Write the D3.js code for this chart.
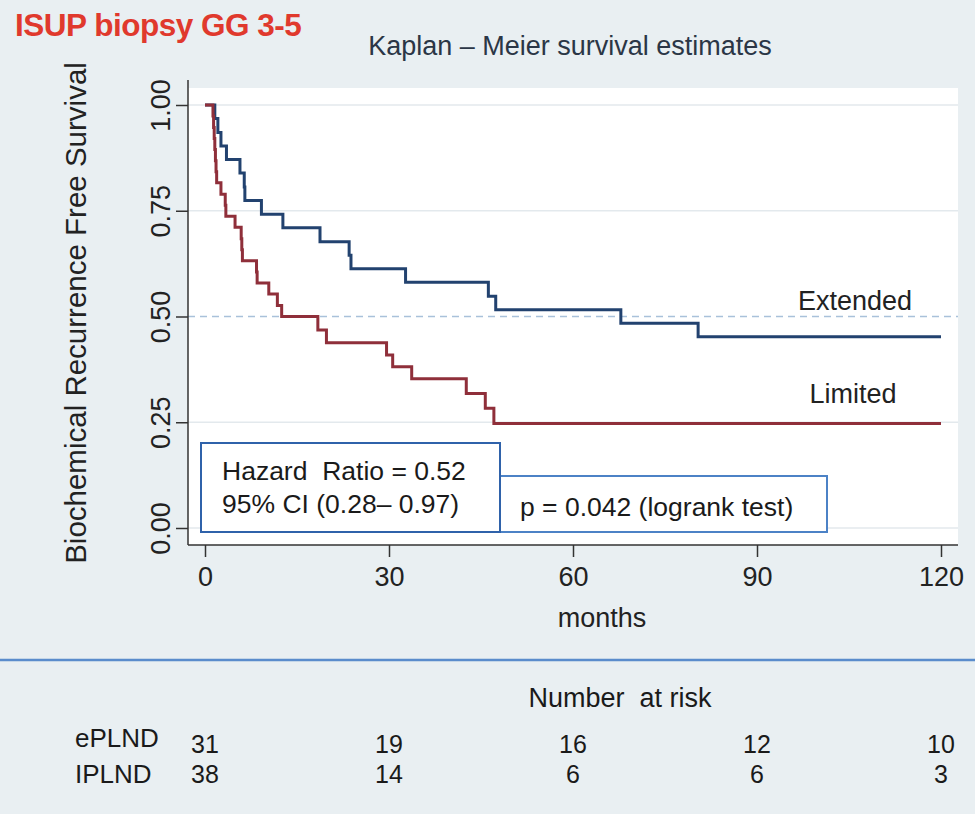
<!DOCTYPE html>
<html>
<head>
<meta charset="utf-8">
<script src="https://cdn.jsdelivr.net/npm/d3@7"></script>
<style>
  html, body { margin: 0; padding: 0; background: #e9eff2; }
  svg { display: block; }
  text { font-family: "Liberation Sans", Arial, sans-serif; }
</style>
</head>
<body>
<svg id="chart" width="975" height="814"></svg>
<script>
// ---- data ----
const timeTicks = [0, 30, 60, 90, 120];
const survTicks = [0, 0.25, 0.5, 0.75, 1];
const extTimes = [0, 1.6, 2.1, 2.6, 3.5, 5.7, 6.4, 6.5, 9.2, 12.7, 18.75, 23.5, 23.8, 32.7, 46.2, 47.4, 67.8, 80.4, 120];
const extSurv  = [1, 0.968, 0.935, 0.903, 0.871, 0.839, 0.806, 0.774, 0.742, 0.710, 0.677, 0.645, 0.613, 0.581, 0.548, 0.516, 0.484, 0.452, 0.452];
const limTimes = [0, 1.3, 1.4, 1.5, 1.6, 1.7, 1.8, 1.9, 2.6, 3.3, 3.4, 4.9, 5.9, 6.0, 6.1, 8.4, 8.5, 10.4, 11.8, 12.5, 18.4, 19.8, 29.6, 30.6, 33.7, 42.6, 45.7, 47.1, 120];
const limSurv  = [1, 0.974, 0.947, 0.921, 0.895, 0.868, 0.842, 0.816, 0.789, 0.763, 0.737, 0.711, 0.684, 0.658, 0.632, 0.605, 0.579, 0.553, 0.526, 0.5, 0.468, 0.438, 0.409, 0.381, 0.353, 0.318, 0.283, 0.247, 0.247];
const groupNames = ["ePLND", "IPLND"];
const riskExt = [31, 19, 16, 12, 10];
const riskLim = [38, 14, 6, 6, 3];
const curveLabels = ["Extended", "Limited"];

// ---- layout ----
const svg = d3.select("#chart");
const frame = { left: 188, right: 958, top: 88, bottom: 545 };
const x = d3.scaleLinear().domain([0, 120]).range([205, 941]);
const y = d3.scaleLinear().domain([0, 1]).range([528, 105]);
const FS = 27;

// page titles
svg.append("text").attr("x", 15).attr("y", 36)
  .attr("fill", "#e0392d").attr("font-weight", "bold").attr("font-size", 31.5)
  .attr("letter-spacing", -0.5)
  .text("ISUP biopsy GG 3-5");
svg.append("text").attr("x", 570).attr("y", 55).attr("text-anchor", "middle")
  .attr("fill", "#2b3646").attr("font-size", FS)
  .text("Kaplan \u2013 Meier survival estimates");

// plot background
svg.append("rect").attr("x", frame.left).attr("y", frame.top)
  .attr("width", frame.right - frame.left).attr("height", frame.bottom - frame.top)
  .attr("fill", "#ffffff");

// gridlines
svg.append("g").selectAll("line").data(survTicks.filter(d => d !== 0.5)).join("line")
  .attr("x1", frame.left).attr("x2", frame.right)
  .attr("y1", d => y(d)).attr("y2", d => y(d))
  .attr("stroke", "#e3e9ed").attr("stroke-width", 1.5);
svg.append("line")
  .attr("x1", frame.left).attr("x2", frame.right)
  .attr("y1", y(0.5)).attr("y2", y(0.5))
  .attr("stroke", "#a9c1da").attr("stroke-width", 1.6).attr("stroke-dasharray", "7,5");

// curves
const line = d3.line().x(d => x(d[0])).y(d => y(d[1])).curve(d3.curveStepAfter);
const extPts = extTimes.map((t, i) => [t, extSurv[i]]);
const limPts = limTimes.map((t, i) => [t, limSurv[i]]);
svg.append("path").attr("d", line(extPts)).attr("fill", "none")
  .attr("stroke", "#22426f").attr("stroke-width", 3);
svg.append("path").attr("d", line(limPts)).attr("fill", "none")
  .attr("stroke", "#8f2f3a").attr("stroke-width", 3);

// curve labels
svg.append("text").attr("x", 855).attr("y", 310).attr("text-anchor", "middle")
  .attr("fill", "#222").attr("font-size", FS).text(curveLabels[0]);
svg.append("text").attr("x", 853).attr("y", 403).attr("text-anchor", "middle")
  .attr("fill", "#222").attr("font-size", FS).text(curveLabels[1]);

// annotation boxes
svg.append("rect").attr("x", 500).attr("y", 476).attr("width", 327).attr("height", 56)
  .attr("fill", "#fff").attr("stroke", "#4c82c6").attr("stroke-width", 2);
svg.append("rect").attr("x", 201).attr("y", 443).attr("width", 299).attr("height", 89)
  .attr("fill", "#fff").attr("stroke", "#2f62aa").attr("stroke-width", 2);
svg.append("text").attr("x", 222).attr("y", 480).attr("font-size", 26.5).attr("fill", "#1a1a1a")
  .attr("xml:space", "preserve").text("Hazard  Ratio = 0.52");
svg.append("text").attr("x", 222).attr("y", 513).attr("font-size", 26.5).attr("fill", "#1a1a1a")
  .text("95% CI (0.28\u2013 0.97)");
svg.append("text").attr("x", 520).attr("y", 516).attr("font-size", 26.5).attr("fill", "#1a1a1a")
  .text("p = 0.042 (logrank test)");

// frame axes lines
svg.append("line").attr("x1", frame.left).attr("x2", frame.left)
  .attr("y1", frame.top - 8).attr("y2", frame.bottom)
  .attr("stroke", "#333").attr("stroke-width", 1.5);
svg.append("line").attr("x1", frame.left).attr("x2", frame.right)
  .attr("y1", frame.bottom).attr("y2", frame.bottom)
  .attr("stroke", "#333").attr("stroke-width", 1.5);

// x axis
const xAxis = svg.append("g").attr("transform", `translate(0,${frame.bottom})`)
  .call(d3.axisBottom(x).tickValues(timeTicks).tickSize(12).tickPadding(10).tickFormat(d3.format("d")));
xAxis.select(".domain").remove();
xAxis.selectAll(".tick line").attr("stroke", "#333").attr("stroke-width", 1.5);
xAxis.selectAll(".tick text").attr("font-size", FS).attr("fill", "#222")
  .attr("font-family", "Liberation Sans, Arial, sans-serif").attr("dy", "0.71em");

svg.append("text").attr("x", 602).attr("y", 627).attr("text-anchor", "middle")
  .attr("font-size", FS).attr("fill", "#222").text("months");

// y axis
const yAxis = svg.append("g").attr("transform", `translate(${frame.left},0)`)
  .call(d3.axisLeft(y).tickValues(survTicks).tickSize(12).tickFormat(d3.format(".2f")));
yAxis.select(".domain").remove();
yAxis.selectAll(".tick line").attr("stroke", "#333").attr("stroke-width", 1.5);
yAxis.selectAll(".tick text")
  .attr("font-size", FS).attr("fill", "#222")
  .attr("font-family", "Liberation Sans, Arial, sans-serif")
  .attr("text-anchor", "middle").attr("x", null).attr("dy", null)
  .attr("transform", "translate(-18,0) rotate(-90)");

svg.append("text")
  .attr("transform", "translate(86,313) rotate(-90)")
  .attr("text-anchor", "middle").attr("font-size", 29.5).attr("fill", "#222")
  .text("Biochemical Recurrence Free Survival");

// separator
svg.append("line").attr("x1", 0).attr("x2", 975).attr("y1", 660).attr("y2", 660)
  .attr("stroke", "#5a8ccc").attr("stroke-width", 2.5);

// number at risk
svg.append("text").attr("x", 620).attr("y", 707).attr("text-anchor", "middle")
  .attr("font-size", FS).attr("fill", "#1a1a1a").attr("xml:space", "preserve").text("Number  at risk");
svg.append("text").attr("x", 75).attr("y", 747).attr("font-size", 26).attr("fill", "#1a1a1a").text(groupNames[0]);
svg.append("text").attr("x", 75).attr("y", 783).attr("font-size", 26).attr("fill", "#1a1a1a").text(groupNames[1]);
svg.append("g").selectAll("text").data(riskExt).join("text")
  .attr("x", (d, i) => x(timeTicks[i])).attr("y", 753).attr("text-anchor", "middle")
  .attr("font-size", 25).attr("fill", "#1a1a1a").text(d => d);
svg.append("g").selectAll("text").data(riskLim).join("text")
  .attr("x", (d, i) => x(timeTicks[i])).attr("y", 783).attr("text-anchor", "middle")
  .attr("font-size", 25).attr("fill", "#1a1a1a").text(d => d);
</script>
</body>
</html>
